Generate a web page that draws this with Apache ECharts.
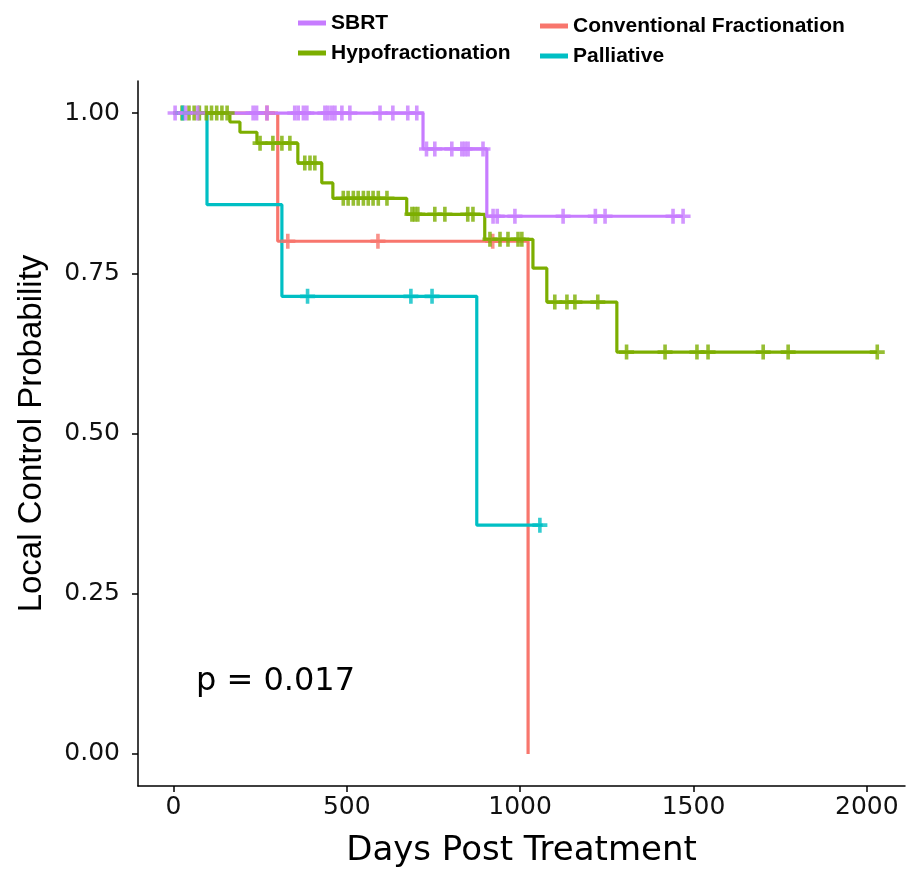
<!DOCTYPE html>
<html>
<head>
<meta charset="utf-8">
<title>Local Control</title>
<script src="https://cdn.jsdelivr.net/npm/echarts@6/dist/echarts.min.js"></script>
<style>
  html, body { margin: 0; padding: 0; background: #fff; }
  #chart { width: 910px; height: 873px; }
</style>
</head>
<body>
<div id="chart"></div>
<script>
// x ticks / y ticks
const xTicks = [0, 500, 1000, 1500, 2000];
const yTicks = [0, 0.25, 0.5, 0.75, 1];

// step curves: [day, survival]
const convCurve = [[0, 1], [301, 0.8], [1023, 0]];
const hypoCurve = [[0, 1], [163, 0.986], [192, 0.970], [241, 0.953], [359, 0.922], [428, 0.891],
    [460, 0.867], [673, 0.842], [898, 0.803], [1037, 0.758], [1077, 0.705], [1279, 0.627], [2030, 0.627]];
const pallCurve = [[0, 1], [97, 0.857], [313, 0.714], [875, 0.357], [1065, 0.357]];
const sbrtCurve = [[0, 1], [720, 0.944], [904, 0.839], [1470, 0.839]];

// censored observations
const convCens = [[270, 1], [330, 0.8], [590, 0.8], [921, 0.8]];
const hypoCens = [[25, 1], [45, 1], [60, 1], [75, 1], [95, 1], [110, 1], [125, 1], [140, 1], [155, 1],
    [250, 0.953], [287, 0.953], [313, 0.953], [336, 0.953],
    [379, 0.922], [394, 0.922], [408, 0.922],
    [490, 0.867], [504, 0.867], [519, 0.867], [533, 0.867], [548, 0.867], [562, 0.867], [576, 0.867], [591, 0.867], [616, 0.867],
    [688, 0.842], [696, 0.842], [705, 0.842], [754, 0.842], [783, 0.842], [849, 0.842], [864, 0.842],
    [913, 0.803], [942, 0.803], [965, 0.803], [994, 0.803], [1005, 0.803],
    [1100, 0.705], [1135, 0.705], [1158, 0.705], [1224, 0.705],
    [1307, 0.627], [1418, 0.627], [1510, 0.627], [1542, 0.627], [1701, 0.627], [1773, 0.627], [2030, 0.627]];
const pallCens = [[27, 1], [387, 0.714], [685, 0.714], [746, 0.714], [1057, 0.357]];
const sbrtCens = [[5, 1], [35, 1], [70, 1], [230, 1], [240, 1], [270, 1], [350, 1], [360, 1], [375, 1], [385, 1],
    [437, 1], [446, 1], [457, 1], [466, 1], [486, 1], [509, 1], [596, 1], [633, 1], [676, 1], [702, 1],
    [730, 0.944], [754, 0.944], [803, 0.944], [832, 0.944], [841, 0.944], [850, 0.944], [893, 0.944],
    [922, 0.839], [934, 0.839], [985, 0.839], [1124, 0.839], [1217, 0.839], [1245, 0.839], [1441, 0.839], [1470, 0.839]];

const colors = {
    sbrt: '#C77CFF',
    conv: '#F8766D',
    hypo: '#7CAE00',
    pall: '#00BFC4'
};

// filled "+" shape for censor marks
const plus = 'path://M38,0h24v38h38v24h-38v38h-24v-38h-38v-24h38z';

function stepLine(name, data, color) {
    return {
        name: name,
        type: 'line',
        step: 'end',
        data: data,
        showSymbol: false,
        color: color,
        lineStyle: { width: 3.2, color: color },
        z: 2
    };
}

function marks(name, data, color) {
    return {
        name: name,
        type: 'scatter',
        data: data,
        symbol: plus,
        symbolSize: 15,
        itemStyle: { color: color },
        z: 3
    };
}

const legendText = { fontSize: 21, fontWeight: 'bold', fontFamily: 'Liberation Sans', color: '#000', lineHeight: 22 };

const option = {
    animation: false,
    backgroundColor: '#fff',
    legend: [
        {
            orient: 'vertical', left: 293, top: 7, itemGap: 8,
            itemWidth: 28, itemHeight: 5, icon: 'rect',
            textStyle: legendText,
            data: ['SBRT', 'Hypofractionation']
        },
        {
            orient: 'vertical', left: 535, top: 10, itemGap: 8,
            itemWidth: 28, itemHeight: 5, icon: 'rect',
            textStyle: legendText,
            data: ['Conventional Fractionation', 'Palliative']
        }
    ],
    grid: { left: 138, right: 5, top: 81, bottom: 83 },
    xAxis: {
        type: 'value',
        min: -102,
        max: 2110,
        name: 'Days Post Treatment',
        nameLocation: 'middle',
        nameGap: 48,
        nameTextStyle: { fontSize: 34, fontFamily: 'DejaVu Sans', color: '#000' },
        axisLine: { onZero: false, lineStyle: { color: '#000', width: 1.5 } },
        axisTick: { length: 6, customValues: xTicks, lineStyle: { color: '#000', width: 1.5 } },
        axisLabel: {
            customValues: xTicks, margin: 9, fontSize: 25, fontFamily: 'DejaVu Sans', color: '#111',
            formatter: function (v) { return String(v); }
        },
        splitLine: { show: false }
    },
    yAxis: {
        type: 'value',
        min: -0.05,
        max: 1.05,
        name: 'Local Control Probability',
        nameLocation: 'middle',
        nameGap: 90,
        nameTextStyle: { fontSize: 33, fontFamily: 'Liberation Sans', color: '#000' },
        axisLine: { show: true, onZero: false, lineStyle: { color: '#000', width: 1.5 } },
        axisTick: { show: true, length: 6, customValues: yTicks, lineStyle: { color: '#000', width: 1.5 } },
        axisLabel: {
            customValues: yTicks, margin: 18, fontSize: 25, fontFamily: 'DejaVu Sans', color: '#111',
            formatter: function (v) { return v.toFixed(2); }
        },
        splitLine: { show: false }
    },
    graphic: [
        {
            type: 'text', left: 196, top: 666,
            style: { text: 'p = 0.017', font: '32px "DejaVu Sans"', fill: '#000' }
        }
    ],
    series: [
        stepLine('Conventional Fractionation', convCurve, colors.conv),
        stepLine('Hypofractionation', hypoCurve, colors.hypo),
        stepLine('Palliative', pallCurve, colors.pall),
        stepLine('SBRT', sbrtCurve, colors.sbrt),
        marks('conv censored', convCens, colors.conv),
        marks('hypo censored', hypoCens, colors.hypo),
        marks('pall censored', pallCens, colors.pall),
        marks('sbrt censored', sbrtCens, colors.sbrt)
    ]
};

const chart = echarts.init(document.getElementById('chart'));
chart.setOption(option);
</script>
</body>
</html>
